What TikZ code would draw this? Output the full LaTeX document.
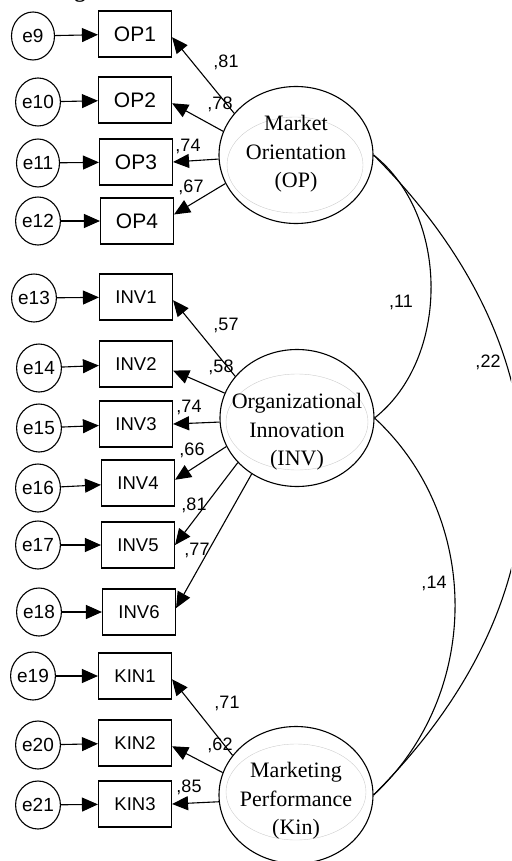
\documentclass[tikz,border=0pt]{standalone}
\usepackage{fontspec}
\setmainfont{Liberation Serif}
\setsansfont{Liberation Sans}
\usetikzlibrary{arrows.meta,shapes.geometric}

\begin{document}
\begin{tikzpicture}[x=1pt, y=-1pt, line width=1.1pt,
        >={Triangle[length=16pt,width=14pt]},
        err/.style={draw, ellipse, minimum width=43pt, minimum height=48pt, inner sep=0pt,
            font=\sffamily\fontsize{19}{19}\selectfont},
        obs/.style={draw, rectangle, minimum width=73pt, minimum height=46pt, inner sep=0pt,
            font=\sffamily\fontsize{18.5}{18.5}\selectfont},
        latent/.style={draw, ellipse, minimum width=154pt, minimum height=137pt, inner sep=0pt},
        lattext/.style={align=center, inner sep=0pt, font=\fontsize{22}{28.5}\selectfont},
        faint/.style={draw=gray!40, line width=0.4pt},
        coef/.style={inner sep=0pt, font=\sffamily\fontsize{18}{18}\selectfont}]
        \useasboundingbox (0, 0) rectangle (511, 861);
        \clip (0, 0) rectangle (511, 861);
        \node[anchor=base, font=\bfseries\fontsize{22}{22}\selectfont] (title) at (80, -2) {g};

        \node[latent] (OP) at (296, 155) {};
        \node[latent] (INV) at (297, 418) {};
        \node[latent] (Kin) at (296, 795) {};
        \path[faint] (295, 165) ellipse [x radius=68, y radius=48];
        \path[faint] (297, 422) ellipse [x radius=71, y radius=48];
        \path[faint] (296, 792) ellipse [x radius=70, y radius=48];
        \node[lattext] (OPtext) at (296, 154) {Market\\Orientation\\(OP)};
        \node[lattext] (INVtext) at (297, 432) {Organizational\\Innovation\\(INV)};
        \node[lattext] (Kintext) at (296, 801) {Marketing\\Performance\\(Kin)};

        \node[obs, font=\sffamily\fontsize{21}{21}\selectfont] (OP1) at (135, 34) {OP1};
        \node[obs, font=\sffamily\fontsize{21}{21}\selectfont] (OP2) at (135, 100) {OP2};
        \node[obs, font=\sffamily\fontsize{21}{21}\selectfont] (OP3) at (136, 162) {OP3};
        \node[obs, font=\sffamily\fontsize{21}{21}\selectfont] (OP4) at (137, 221) {OP4};
        \node[obs] (INV1) at (136, 297) {INV1};
        \node[obs] (INV2) at (136, 364) {INV2};
        \node[obs] (INV3) at (136, 424) {INV3};
        \node[obs] (INV4) at (138, 483) {INV4};
        \node[obs] (INV5) at (138, 545) {INV5};
        \node[obs] (INV6) at (139, 612) {INV6};
        \node[obs] (KIN1) at (135, 676) {KIN1};
        \node[obs] (KIN2) at (135, 743) {KIN2};
        \node[obs] (KIN3) at (135, 804) {KIN3};

        \node[err] (e9) at (33, 36) {e9};
        \node[err] (e10) at (38, 102) {e10};
        \node[err] (e11) at (38, 163) {e11};
        \node[err] (e12) at (38, 221) {e12};
        \node[err] (e13) at (34, 298) {e13};
        \node[err] (e14) at (39, 368) {e14};
        \node[err] (e15) at (39, 428) {e15};
        \node[err] (e16) at (38, 488) {e16};
        \node[err] (e17) at (38, 545) {e17};
        \node[err] (e18) at (39, 612) {e18};
        \node[err] (e19) at (33, 676) {e19};
        \node[err] (e20) at (38, 745) {e20};
        \node[err] (e21) at (38, 805) {e21};

        \foreach \e/\v in {e9/OP1, e10/OP2, e11/OP3, e12/OP4, e13/INV1, e14/INV2, e15/INV3,
                e16/INV4, e17/INV5, e18/INV6, e19/KIN1, e20/KIN2, e21/KIN3}
            \path[draw, ->] (\e) -- (\v);

        \path[draw, ->] (OP.146) -- (OP1.-5);
        \path[draw, ->] (OP.162) -- (OP2.-5);
        \path[draw, ->] (OP.183) -- (OP3.east);
        \path[draw, ->] (OP.202) -- (OP4.10);
        \path[draw, ->] (INV.146) -- (INV1.-5);
        \path[draw, ->] (INV.161) -- (INV2.-10);
        \path[draw, ->] (INV.183) -- (INV3.east);
        \path[draw, ->] (INV.202) -- (INV4.5);
        \path[draw, ->] (INV.217) -- (INV5.east);
        \path[draw, ->] (INV.231) -- (INV6.6);
        \path[draw, ->] (Kin.148) -- (KIN1.-5);
        \path[draw, ->] (Kin.163) -- (KIN2.-5);
        \path[draw, ->] (Kin.185) -- (KIN3.east);

        \node[coef] (cOP1) at (226, 62) {,81};
        \node[coef] (cOP2) at (220, 104) {,78};
        \node[coef] (cOP3) at (188, 146) {,74};
        \node[coef] (cOP4) at (191, 187) {,67};
        \node[coef] (cINV1) at (226, 325) {,57};
        \node[coef] (cINV2) at (221, 367) {,58};
        \node[coef] (cINV3) at (189, 407) {,74};
        \node[coef] (cINV4) at (192, 450) {,66};
        \node[coef] (cINV5) at (194, 505) {,81};
        \node[coef] (cINV6) at (197, 550) {,77};
        \node[coef] (cKIN1) at (227, 703) {,71};
        \node[coef] (cKIN2) at (220, 745) {,62};
        \node[coef] (cKIN3) at (189, 787) {,85};

        \path[draw] (OP.east) .. controls +(76, 60) and +(76, -60) .. (INV.east);
        \path[draw] (OP.east) .. controls +(200, 200) and +(200, -200) .. (Kin.east);
        \path[draw] (INV.east) .. controls +(108, 100) and +(108, -100) .. (Kin.east);
        \node[coef] (cOPINV) at (401, 302) {,11};
        \node[coef] (cOPKin) at (488, 362) {,22};
        \node[coef] (cINVKin) at (434, 583) {,14};
    \end{tikzpicture}
\end{document}
